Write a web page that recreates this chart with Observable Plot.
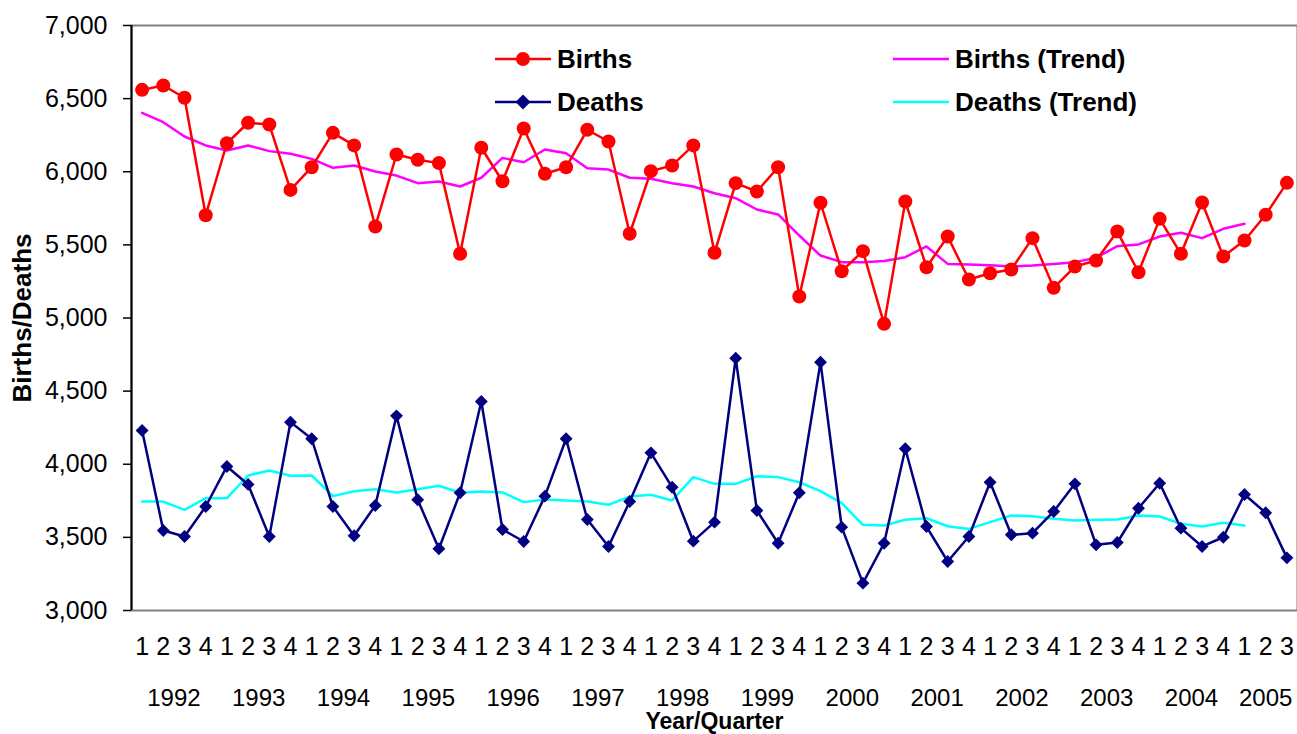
<!DOCTYPE html>
<html>
<head>
<meta charset="utf-8">
<script src="https://cdn.jsdelivr.net/npm/d3@7"></script>
<script src="https://cdn.jsdelivr.net/npm/@observablehq/plot@0.6"></script>
<style>
  html, body { margin: 0; padding: 0; background: #fff; }
  #wrap { position: relative; width: 1297px; height: 734px; font-family: "Liberation Sans", Arial, sans-serif; }
  .lg { position: absolute; display: flex; align-items: center; height: 30px; font-weight: bold; font-size: 26px; color: #000; white-space: nowrap; }
  .lg svg { margin-right: 6px; }
</style>
</head>
<body>
<div id="wrap"></div>
<script>
// ---- data ----
const years = [1992, 1993, 1994, 1995, 1996, 1997, 1998, 1999, 2000, 2001, 2002, 2003, 2004, 2005];
const quartersPerYear = [4, 4, 4, 4, 4, 4, 4, 4, 4, 4, 4, 4, 4, 3];

const births = [6560, 6590, 6506, 5703, 6195, 6335, 6323, 5876, 6031, 6266, 6180, 5626,
  6118, 6082, 6059, 5439, 6164, 5935, 6296, 5986, 6031, 6287, 6207, 5576,
  6004, 6043, 6180, 5446, 5922, 5865, 6031, 5147, 5788, 5320, 5457, 4960,
  5797, 5347, 5557, 5263, 5306, 5332, 5546, 5206, 5352, 5393, 5591, 5313,
  5678, 5439, 5790, 5421, 5530, 5706, 5924];

const deaths = [4231, 3547, 3506, 3711, 3985, 3862, 3506, 4288, 4174, 3711, 3511, 3718,
  4331, 3757, 3422, 3805, 4429, 3554, 3472, 3782, 4174, 3622, 3438, 3745,
  4078, 3843, 3474, 3604, 4725, 3684, 3460, 3805, 4698, 3570, 3187, 3460,
  4106, 3574, 3335, 3506, 3877, 3518, 3529, 3677, 3866, 3449, 3465, 3699,
  3870, 3563, 3438, 3501, 3793, 3668, 3360];

const birthsTrend = [6403, 6339, 6241, 6180, 6145, 6180, 6141, 6123, 6088, 6027, 6043, 6002,
  5974, 5922, 5933, 5899, 5959, 6095, 6065, 6152, 6127, 6024, 6015, 5959,
  5952, 5922, 5899, 5853, 5819, 5742, 5708, 5564, 5427, 5382, 5382, 5390,
  5416, 5489, 5370, 5366, 5361, 5352, 5359, 5370, 5382, 5412, 5491, 5503,
  5557, 5583, 5546, 5610, 5644];

const deathsTrend = [3745, 3745, 3688, 3768, 3768, 3923, 3957, 3921, 3923, 3782, 3816, 3829,
  3807, 3829, 3853, 3805, 3814, 3807, 3741, 3759, 3752, 3745, 3723, 3779,
  3791, 3752, 3912, 3866, 3866, 3918, 3912, 3877, 3816, 3734, 3586, 3581,
  3620, 3631, 3576, 3558, 3604, 3650, 3645, 3627, 3615, 3620, 3622, 3650,
  3643, 3593, 3574, 3600, 3581];

const yTicks = [3000, 3500, 4000, 4500, 5000, 5500, 6000, 6500, 7000];

const seriesNames = ["Births", "Deaths", "Births (Trend)", "Deaths (Trend)"];
const seriesColors = ["#ff0000", "#000080", "#ff00ff", "#00ffff"];

// ---- derived tables ----
const quarterLabels = [];
const yearCenters = [];
{
  let k = 0;
  years.forEach((y, j) => {
    const n = quartersPerYear[j];
    yearCenters.push({c: k + (n - 1) / 2, label: String(y)});
    for (let q = 1; q <= n; q++) { quarterLabels.push(String(q)); k++; }
  });
}
const toRows = arr => arr.map((v, i) => ({i, v}));
const bRows = toRows(births), dRows = toRows(deaths);
const btRows = toRows(birthsTrend), dtRows = toRows(deathsTrend);
const yearLabelOf = new Map(yearCenters.map(d => [d.c, d.label]));

const font = "Liberation Sans, Arial, sans-serif";

const chart = Plot.plot({
  width: 1297,
  height: 734,
  marginLeft: 131,
  marginRight: 0,
  marginTop: 25,
  marginBottom: 124,
  style: {fontFamily: font, fontSize: "25px", background: "white", color: "black"},
  x: {type: "linear", domain: [-0.5, quarterLabels.length - 0.5]},
  y: {domain: [3000, 7000]},
  marks: [
    Plot.frame({stroke: "#808080", strokeWidth: 2}),
    Plot.ruleX([-0.5], {stroke: "black", strokeWidth: 2}),
    Plot.axisY({ticks: yTicks, tickFormat: d3.format(","), tickSize: 8, tickPadding: 16, fontSize: 25, label: null, stroke: "black", strokeWidth: 1.5}),
    Plot.axisX({ticks: d3.range(quarterLabels.length), tickFormat: i => quarterLabels[i], tickSize: 0, tickPadding: 27, fontSize: 25, label: null}),
    Plot.axisX({ticks: yearCenters.map(d => d.c), tickFormat: c => yearLabelOf.get(c), tickSize: 0, tickPadding: 78, fontSize: 24, label: null}),
    Plot.text(["Births/Deaths"], {frameAnchor: "left", dx: -109, rotate: -90, textAnchor: "middle", lineAnchor: "middle", fontWeight: "bold", fontSize: 26, text: d => d}),
    Plot.text(["Year/Quarter"], {frameAnchor: "bottom", dy: 111, textAnchor: "middle", lineAnchor: "middle", fontWeight: "bold", fontSize: 23, text: d => d}),
    Plot.line(btRows, {x: "i", y: "v", stroke: seriesColors[2], strokeWidth: 2.5}),
    Plot.line(dtRows, {x: "i", y: "v", stroke: seriesColors[3], strokeWidth: 2.5}),
    Plot.line(bRows, {x: "i", y: "v", stroke: seriesColors[0], strokeWidth: 2.5}),
    Plot.dot(bRows, {x: "i", y: "v", fill: seriesColors[0], r: 7}),
    Plot.line(dRows, {x: "i", y: "v", stroke: seriesColors[1], strokeWidth: 2.5}),
    Plot.dot(dRows, {x: "i", y: "v", fill: seriesColors[1], symbol: "diamond2", r: 5.8})
  ]
});

const wrap = document.getElementById("wrap");
wrap.appendChild(chart);

// ---- legend (HTML overlay) ----
const legendItems = [
  {name: seriesNames[0], color: seriesColors[0], marker: "circle", left: 495, top: 44},
  {name: seriesNames[1], color: seriesColors[1], marker: "diamond", left: 495, top: 87},
  {name: seriesNames[2], color: seriesColors[2], marker: null, left: 893, top: 44},
  {name: seriesNames[3], color: seriesColors[3], marker: null, left: 893, top: 87}
];
legendItems.forEach(it => {
  const div = document.createElement("div");
  div.className = "lg";
  div.style.left = it.left + "px";
  div.style.top = it.top + "px";
  let m = "";
  if (it.marker === "circle") m = `<circle cx="28" cy="15" r="7" fill="${it.color}"/>`;
  if (it.marker === "diamond") m = `<path d="M28,7.5L35.5,15L28,22.5L20.5,15Z" fill="${it.color}"/>`;
  div.innerHTML = `<svg width="56" height="30"><line x1="0" x2="56" y1="15" y2="15" stroke="${it.color}" stroke-width="2.5"/>${m}</svg><span>${it.name}</span>`;
  wrap.appendChild(div);
});
</script>
</body>
</html>
